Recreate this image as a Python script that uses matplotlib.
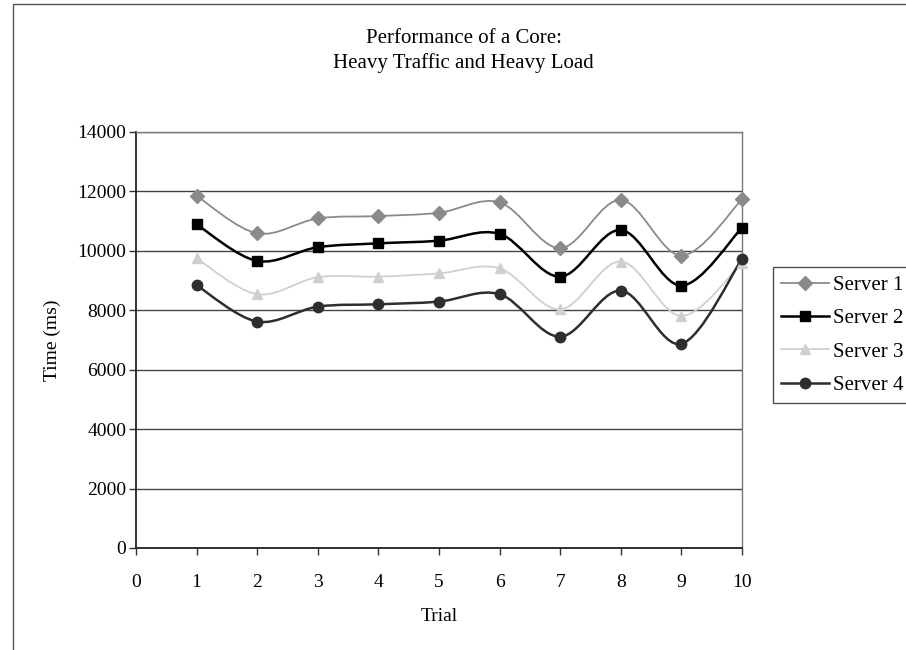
import numpy as np
import matplotlib
matplotlib.use("Agg")
import matplotlib.pyplot as plt
from matplotlib.path import Path
from matplotlib.patches import PathPatch, Rectangle
from matplotlib.lines import Line2D

# values
trials = [1, 2, 3, 4, 5, 6, 7, 8, 9, 10]
server_1 = [11850, 10590, 11090, 11170, 11280, 11630, 10090, 11710, 9840, 11730]
server_2 = [10890, 9660, 10120, 10250, 10340, 10570, 9130, 10700, 8830, 10780]
server_3 = [9750, 8540, 9110, 9130, 9240, 9410, 8030, 9640, 7810, 9600]
server_4 = [8840, 7620, 8120, 8200, 8290, 8540, 7110, 8660, 6870, 9730]
labels = ["Server 1", "Server 2", "Server 3", "Server 4"]

plt.rcParams['font.family'] = ['Liberation Serif', 'DejaVu Serif']


def smooth_path(xs, ys):
    # Excel-style smoothed line: cubic bezier through every point
    pts = np.column_stack([xs, ys]).astype(float)
    n = len(pts)
    verts = [pts[0]]
    codes = [Path.MOVETO]
    for i in range(n - 1):
        p_prev = pts[i - 1] if i > 0 else pts[i]
        p_next2 = pts[i + 2] if i + 2 < n else pts[i + 1]
        c1 = pts[i] + (pts[i + 1] - p_prev) / 6.0
        c2 = pts[i + 1] - (p_next2 - pts[i]) / 6.0
        verts += [c1, c2, pts[i + 1]]
        codes += [Path.CURVE4] * 3
    return Path(verts, codes)


fig = plt.figure(figsize=(9.06, 6.5), dpi=100)
ax = fig.add_axes([0.150, 0.157, 0.669, 0.640])

# outer chart frame (left/top visible, the rest runs off the scan)
fig.patches.append(Rectangle((0.0145, -0.05), 1.1, 1.044, transform=fig.transFigure,
                             fill=False, edgecolor="#555555", linewidth=1.0))

styles = [
    dict(color="#8a8a8a", marker="D", ms=7, lw=1.3),
    dict(color="#000000", marker="s", ms=7.5, lw=1.8),
    dict(color="#cfcfcf", marker="^", ms=7.5, lw=1.3),
    dict(color="#2e2e2e", marker="o", ms=7.5, lw=1.8),
]
series = [server_1, server_2, server_3, server_4]

handles = []
for vals, st, lab in zip(series, styles, labels):
    ax.add_patch(PathPatch(smooth_path(trials, vals), fill=False,
                           edgecolor=st["color"], linewidth=st["lw"], zorder=3))
    ax.plot(trials, vals, linestyle="none", marker=st["marker"], ms=st["ms"],
            color=st["color"], markeredgecolor=st["color"], zorder=4, clip_on=False)
    handles.append(Line2D([], [], color=st["color"], lw=st["lw"], marker=st["marker"],
                          ms=st["ms"], markeredgecolor=st["color"]))

ax.set_xlim(0, 10)
ax.set_ylim(0, 14000)
ax.set_xticks(range(0, 11))
ax.set_yticks(range(0, 14001, 2000))
ax.yaxis.grid(True, color="#444444", linewidth=1.0, zorder=1)
ax.set_axisbelow(True)
ax.tick_params(axis="both", direction="out", labelsize=14, length=5, width=1, color="#333333")
ax.tick_params(axis="x", pad=14)
ax.tick_params(axis="y", pad=2)
for side in ["left", "bottom"]:
    ax.spines[side].set_color("#222222")
    ax.spines[side].set_linewidth(1.3)
for side in ["top", "right"]:
    ax.spines[side].set_color("#777777")
    ax.spines[side].set_linewidth(1.0)

ax.set_xlabel("Trial", fontsize=14, labelpad=12)
ax.set_ylabel("Time (ms)", fontsize=14, labelpad=12)

fig.text(0.512, 0.921, "Performance of a Core:\nHeavy Traffic and Heavy Load",
         ha="center", va="center", fontsize=15, linespacing=1.35)

leg = fig.legend(handles, labels, loc="upper left", bbox_to_anchor=(0.853, 0.589),
                 fontsize=15, frameon=True, fancybox=False, edgecolor="#222222",
                 handlelength=2.3, handletextpad=0.2, labelspacing=0.66,
                 borderpad=0.4, borderaxespad=0)
leg.get_frame().set_linewidth(1.0)

fig.savefig("out.png", dpi=100)
